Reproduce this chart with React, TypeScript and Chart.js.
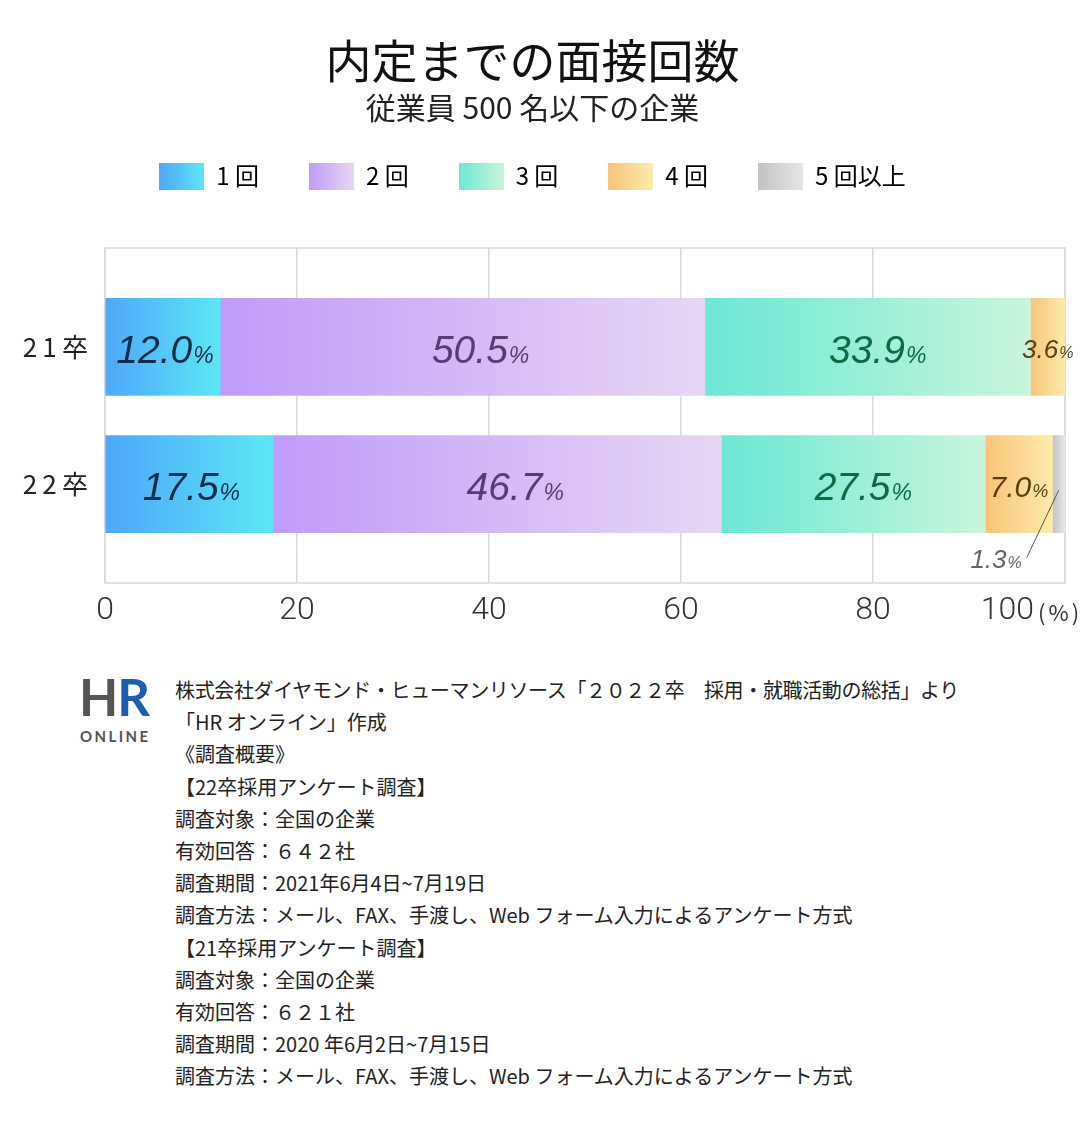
import React, { useEffect, useRef } from 'react';
import { Chart, registerables } from 'chart.js';

Chart.register(...registerables);

// ---------- data ----------
const categories = ['21卒', '22卒'];
const seriesNames = ['1 回', '2 回', '3 回', '4 回', '5 回以上'];
const once = [12.0, 17.5];
const twice = [50.5, 46.7];
const threeTimes = [33.9, 27.5];
const fourTimes = [3.6, 7.0];
const fiveOrMore = [0, 1.3];
const xTickValues = [0, 20, 40, 60, 80, 100];
const titleText = '内定までの面接回数';
const subtitleText = '従業員 500 名以下の企業';
const unitText = '(%)';
const noteLines = [
  '株式会社ダイヤモンド・ヒューマンリソース「２０２２卒　採用・就職活動の総括」より',
  '「HR オンライン」作成',
  '《調査概要》',
  '【22卒採用アンケート調査】',
  '調査対象：全国の企業',
  '有効回答：６４２社',
  '調査期間：2021年6月4日~7月19日',
  '調査方法：メール、FAX、手渡し、Web フォーム入力によるアンケート方式',
  '【21卒採用アンケート調査】',
  '調査対象：全国の企業',
  '有効回答：６２１社',
  '調査期間：2020 年6月2日~7月15日',
  '調査方法：メール、FAX、手渡し、Web フォーム入力によるアンケート方式',
];

const seriesValues = [once, twice, threeTimes, fourTimes, fiveOrMore];

// ---------- styles ----------
const gradientStops = [
  ['#4ea7fb', '#5ce7f5'],
  ['#bf9bfa', '#e8d6f3'],
  ['#6be8d4', '#c9f5dc'],
  ['#f8c478', '#feeaab'],
  ['#c2c2c2', '#e8e8e8'],
];
const labelColors = ['#0f2c4c', '#573b72', '#0e6a46', '#5c3c12', '#666666'];
const labelShift = [2, 18, 10, 0, 0];
const CJK = '"Noto Sans CJK JP", "Noto Sans", sans-serif';
const LATIN = '"Liberation Sans", Arial, sans-serif';
const TICK_FONT = 'Roboto, "Liberation Sans", sans-serif';

function makeSwatch(c0: string, c1: string) {
  const cv = document.createElement('canvas');
  cv.width = 45;
  cv.height = 27;
  const g = cv.getContext('2d')!;
  const gr = g.createLinearGradient(0, 0, 45, 0);
  gr.addColorStop(0, c0);
  gr.addColorStop(1, c1);
  g.fillStyle = gr;
  g.fillRect(0, 0, 45, 27);
  return cv;
}

function segmentGradient(c: any, di: number) {
  const chart = c.chart;
  const xs = chart.scales && chart.scales.x;
  const [c0, c1] = gradientStops[di];
  if (!xs || !chart.chartArea || c.type !== 'data') return c0;
  const i = c.dataIndex;
  let before = 0;
  for (let k = 0; k < di; k++) before += seriesValues[k][i];
  const x0 = xs.getPixelForValue(before);
  let x1 = xs.getPixelForValue(before + seriesValues[di][i]);
  if (x1 - x0 < 1) x1 = x0 + 1;
  const g = chart.ctx.createLinearGradient(x0, 0, x1, 0);
  g.addColorStop(0, c0);
  g.addColorStop(1, c1);
  return g;
}

const framePlugin = {
  id: 'frame',
  beforeDatasetsDraw(chart: any) {
    const { ctx, chartArea: a } = chart;
    ctx.save();
    ctx.strokeStyle = '#d9d9d9';
    ctx.lineWidth = 1.5;
    ctx.strokeRect(a.left, a.top, a.right - a.left, a.bottom - a.top);
    ctx.restore();
  },
};

const labelPlugin = {
  id: 'barLabels',
  afterDatasetsDraw(chart: any) {
    const { ctx } = chart;
    ctx.save();
    seriesValues.forEach((vals, di) => {
      const meta = chart.getDatasetMeta(di);
      meta.data.forEach((bar: any, i: number) => {
        const v = vals[i];
        if (!v) return;
        const p = bar.getProps(['x', 'base', 'y', 'height'], true);
        const left = Math.min(p.x, p.base);
        const right = Math.max(p.x, p.base);
        const segCenter = (left + right) / 2;
        const big = v >= 10 ? 39 : v >= 5 ? 30 : 26;
        const small = Math.round(big * 0.6);
        const num = v.toFixed(1);
        ctx.fillStyle = labelColors[di];
        ctx.textBaseline = 'alphabetic';
        ctx.textAlign = 'left';
        ctx.font = `italic 400 ${big}px ${LATIN}`;
        const wNum = ctx.measureText(num).width;
        ctx.font = `italic 400 ${small}px ${LATIN}`;
        const wPct = ctx.measureText('%').width;
        const total = wNum + 1 + wPct;
        if (v < 2) {
          const bottom = p.y + p.height / 2;
          ctx.strokeStyle = '#555';
          ctx.lineWidth = 1;
          ctx.beginPath();
          ctx.moveTo(segCenter, p.y + 6);
          ctx.lineTo(segCenter - 32, bottom + 25);
          ctx.stroke();
          const sx = segCenter - 37 - total;
          const baseline = bottom + 35;
          ctx.font = `italic 400 ${big}px ${LATIN}`;
          ctx.fillText(num, sx, baseline);
          ctx.font = `italic 400 ${small}px ${LATIN}`;
          ctx.fillText('%', sx + wNum + 1, baseline);
        } else {
          const cx = segCenter + labelShift[di];
          const sx = cx - total / 2;
          const baseline = p.y + 2 + (big * 0.716) / 2;
          ctx.font = `italic 400 ${big}px ${LATIN}`;
          ctx.fillText(num, sx, baseline);
          ctx.font = `italic 400 ${small}px ${LATIN}`;
          ctx.fillText('%', sx + wNum + 1, baseline);
        }
      });
    });
    ctx.restore();
  },
};

const lastTickPlugin = {
  id: 'lastTick',
  afterDraw(chart: any) {
    const { ctx } = chart;
    const xs = chart.scales.x;
    const last = xTickValues[xTickValues.length - 1];
    const px = xs.getPixelForValue(last);
    const cy = xs.top + 9 + 32 * 1.2 / 2;
    ctx.save();
    ctx.fillStyle = '#333';
    ctx.textBaseline = 'middle';
    ctx.font = `300 32px ${TICK_FONT}`;
    ctx.textAlign = 'right';
    ctx.fillText(String(last), px - 31, cy);
    ctx.font = `400 22px ${CJK}`;
    ctx.textAlign = 'left';
    try { (ctx as any).letterSpacing = '3px'; } catch (e) {}
    ctx.fillText(unitText, px - 27, cy + 1);
    ctx.restore();
  },
};

export default function App() {
  const ref = useRef<HTMLCanvasElement | null>(null);

  useEffect(() => {
    document.body.style.margin = '0';
    const canvas = ref.current;
    if (!canvas) return;
    const swatches = gradientStops.map(([a, b]) => makeSwatch(a, b));
    const chart = new Chart(canvas, {
      type: 'bar',
      data: {
        datasets: seriesValues.map((vals, di) => ({
          label: seriesNames[di],
          data: vals.map((v, i) => ({ x: v, y: i })),
          backgroundColor: (c: any) => segmentGradient(c, di),
          borderWidth: 0,
          barThickness: 97,
        })),
      },
      options: {
        indexAxis: 'y',
        responsive: false,
        animation: false,
        devicePixelRatio: 1,
        events: [],
        layout: { padding: { left: 0, right: 15, top: 0, bottom: 0 } },
        scales: {
          x: {
            type: 'linear',
            stacked: true,
            min: 0,
            max: 100,
            afterBuildTicks: (s: any) => {
              s.ticks = xTickValues.map((v) => ({ value: v }));
            },
            ticks: {
              callback: (v: any) => (v === xTickValues[xTickValues.length - 1] ? '' : String(v)),
              font: { family: TICK_FONT, size: 32, weight: '300' },
              color: '#333',
              padding: 9,
              maxRotation: 0,
              autoSkip: false,
            },
            grid: { color: '#d9d9d9', lineWidth: 1.5, drawTicks: false },
            border: { display: false },
            afterFit: (s: any) => {
              s.height = 67;
            },
          },
          xTop: {
            type: 'linear',
            position: 'top',
            display: true,
            grid: { display: false, drawTicks: false },
            ticks: { display: false },
            border: { display: false },
            afterFit: (s: any) => {
              s.height = 50;
            },
          },
          y: {
            type: 'linear',
            stacked: true,
            reverse: true,
            offset: false,
            min: -0.72,
            max: 1.72,
            afterBuildTicks: (s: any) => {
              s.ticks = categories.map((_, i) => ({ value: i }));
            },
            ticks: {
              callback: (v: any) => Array.from(String(categories[v])).join('\u2009'),
              font: { family: CJK, size: 26, weight: '400' },
              color: '#222',
              padding: 17,
            },
            grid: { display: false, drawTicks: false },
            border: { display: false },
            afterFit: (s: any) => {
              s.width = 105;
            },
          },
        },
        plugins: {
          title: {
            display: true,
            text: titleText,
            color: '#111',
            font: { family: CJK, size: 46, weight: '400', lineHeight: 0.8 },
            padding: { top: 42.6, bottom: 0 },
          },
          subtitle: {
            display: true,
            text: subtitleText,
            color: '#222',
            font: { family: CJK, size: 30, weight: '400', lineHeight: 0.4 },
            padding: { top: 22.6, bottom: 0 },
          },
          legend: {
            display: true,
            position: 'top',
            labels: {
              usePointStyle: true,
              pointStyleWidth: 45,
              padding: 50,
              color: '#222',
              font: { family: CJK, size: 24, weight: '400' },
              generateLabels: () =>
                seriesNames.map((name, i) => ({
                  text: name,
                  pointStyle: swatches[i],
                  fillStyle: gradientStops[i][0],
                  strokeStyle: 'rgba(0,0,0,0)',
                  lineWidth: 0,
                  hidden: false,
                  datasetIndex: i,
                })),
            },
          },
          tooltip: { enabled: false },
        },
      } as any,
      plugins: [framePlugin, labelPlugin, lastTickPlugin],
    });
    return () => chart.destroy();
  }, []);

  return (
    <div style={{ position: 'absolute', left: 0, top: 0, width: 1080, height: 1123, background: '#fff', overflow: 'hidden' }}>
      <canvas ref={ref} width={1080} height={650} style={{ position: 'absolute', left: 0, top: 0, width: 1080, height: 650 }} />
      <div style={{ position: 'absolute', left: 79, top: 671, fontFamily: 'Lato, "Open Sans", sans-serif', fontWeight: 700, fontSize: 51, lineHeight: '51px', letterSpacing: -1 }}>
        <span style={{ color: '#555555' }}>H</span>
        <span style={{ color: '#1c5fae' }}>R</span>
      </div>
      <div style={{ position: 'absolute', left: 80, top: 729, fontFamily: 'Lato, "Open Sans", sans-serif', fontWeight: 700, fontSize: 15, lineHeight: '15px', letterSpacing: 2.4, color: '#555555' }}>
        ONLINE
      </div>
      <div style={{ position: 'absolute', left: 175, top: 674, fontFamily: CJK, fontSize: 20, lineHeight: '32.2px', color: '#222', whiteSpace: 'nowrap' }}>
        {noteLines.map((t, i) => (
          <div key={i} style={i === 0 ? { letterSpacing: -0.35 } : undefined}>{t}</div>
        ))}
      </div>
    </div>
  );
}
